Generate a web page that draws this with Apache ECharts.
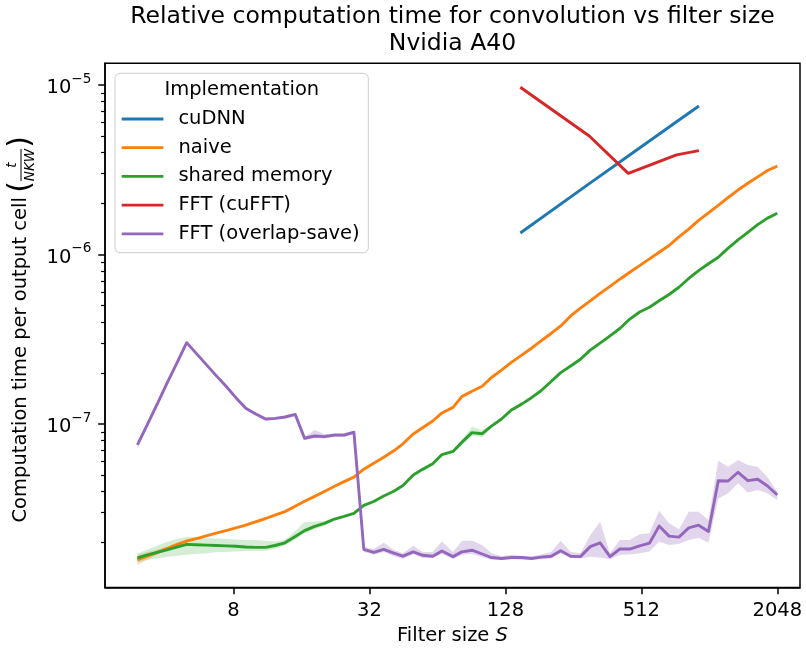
<!DOCTYPE html>
<html><head><meta charset="utf-8">
<script src="https://cdn.jsdelivr.net/npm/echarts@6/dist/echarts.min.js"></script>
<style>html,body{margin:0;padding:0;background:#fff}#c{width:806px;height:648px}</style>
</head><body><div id="c"></div>
<script>
// Filter sizes S (x positions)
const sizes = [3, 3.32, 3.67, 4.05, 4.48, 4.96, 5.48, 6.06, 6.7, 7.41, 8.19, 9.06, 10, 11.1, 12.2, 13.5, 15, 16.5, 18.3, 20.2,
  22.4, 24.7, 27.3, 30.2, 33.4, 37, 41, 45, 50, 55, 61, 67, 75, 82, 91, 101, 111, 123, 136, 151,
  167, 184, 204, 225, 249, 275, 304, 336, 372, 411, 455, 503, 556, 614, 679, 751, 830, 918, 1015, 1122,
  1241, 1372, 1517, 1677, 1854, 2048];
const sizesFFT = [149, 301, 448, 733, 921];

// Time per output cell (seconds)
const cudnn = [1.34e-6, 2.62e-6, 3.81e-6, 6.07e-6, 7.52e-6];
const cufft = [9.70e-6, 5.00e-6, 3.01e-6, 3.87e-6, 4.10e-6];
const naive = [1.58e-8, 1.66e-8, 1.75e-8, 1.84e-8, 1.94e-8, 2.04e-8, 2.11e-8, 2.19e-8, 2.27e-8, 2.35e-8,
  2.44e-8, 2.53e-8, 2.65e-8, 2.77e-8, 2.90e-8, 3.04e-8, 3.27e-8, 3.50e-8, 3.74e-8, 4.00e-8,
  4.29e-8, 4.57e-8, 4.86e-8, 5.41e-8, 5.86e-8, 6.36e-8, 6.95e-8, 7.64e-8, 8.73e-8, 9.50e-8,
  1.042e-7, 1.162e-7, 1.254e-7, 1.45e-7, 1.56e-7, 1.67e-7, 1.88e-7, 2.08e-7, 2.31e-7, 2.55e-7,
  2.80e-7, 3.09e-7, 3.42e-7, 3.79e-7, 4.34e-7, 4.83e-7, 5.33e-7, 5.89e-7, 6.49e-7, 7.15e-7,
  7.85e-7, 8.60e-7, 9.42e-7, 1.03e-6, 1.13e-6, 1.27e-6, 1.41e-6, 1.59e-6, 1.76e-6, 1.95e-6,
  2.17e-6, 2.40e-6, 2.63e-6, 2.87e-6, 3.13e-6, 3.32e-6];
const naiveLo = [1.47e-8, 1.58e-8, 1.69e-8, 1.79e-8, 1.91e-8, 2.00e-8];
const naiveHi = [1.69e-8, 1.76e-8, 1.82e-8, 1.89e-8, 1.99e-8, 2.08e-8];
const shared = [1.62e-8, 1.69e-8, 1.75e-8, 1.81e-8, 1.88e-8, 1.95e-8, 1.94e-8, 1.93e-8, 1.92e-8, 1.91e-8,
  1.90e-8, 1.88e-8, 1.87e-8, 1.87e-8, 1.92e-8, 1.99e-8, 2.17e-8, 2.35e-8, 2.49e-8, 2.59e-8,
  2.75e-8, 2.85e-8, 2.97e-8, 3.31e-8, 3.49e-8, 3.76e-8, 4.01e-8, 4.34e-8, 5.00e-8, 5.40e-8,
  5.83e-8, 6.60e-8, 6.89e-8, 7.79e-8, 8.89e-8, 8.76e-8, 9.71e-8, 1.07e-7, 1.21e-7, 1.31e-7,
  1.43e-7, 1.57e-7, 1.78e-7, 2.01e-7, 2.20e-7, 2.41e-7, 2.73e-7, 3.00e-7, 3.31e-7, 3.66e-7,
  4.16e-7, 4.58e-7, 4.88e-7, 5.33e-7, 5.81e-7, 6.41e-7, 7.22e-7, 8.03e-7, 8.82e-7, 9.63e-7,
  1.09e-6, 1.22e-6, 1.35e-6, 1.50e-6, 1.64e-6, 1.75e-6];
const sharedLo = [1.52e-8, 1.58e-8, 1.61e-8, 1.65e-8, 1.67e-8, 1.69e-8, 1.71e-8, 1.73e-8, 1.75e-8, 1.76e-8,
  1.77e-8, 1.78e-8, 1.78e-8, 1.79e-8, 1.83e-8, 1.92e-8, 2.08e-8, 2.26e-8, 2.40e-8, 2.50e-8,
  2.70e-8, null, null, null, null, null, null, null, null, null,
  null, null, 6.74e-8, 7.52e-8, 8.50e-8, 8.38e-8, 9.47e-8];
const sharedHi = [1.72e-8, 1.81e-8, 1.91e-8, 2.01e-8, 2.10e-8, 2.16e-8, 2.15e-8, 2.12e-8, 2.11e-8, 2.10e-8,
  2.08e-8, 2.07e-8, 2.07e-8, 2.05e-8, 2.03e-8, 2.07e-8, 2.34e-8, 2.64e-8, 2.66e-8, 2.68e-8,
  2.80e-8, null, null, null, null, null, null, null, null, null,
  null, null, 7.02e-8, 8.05e-8, 9.64e-8, 9.22e-8, 9.87e-8];
const overlap = [7.52e-8, 9.93e-8, 1.31e-7, 1.73e-7, 2.28e-7, 3.02e-7, 2.60e-7, 2.24e-7, 1.93e-7, 1.67e-7,
  1.43e-7, 1.24e-7, 1.15e-7, 1.07e-7, 1.08e-7, 1.10e-7, 1.14e-7, 8.24e-8, 8.50e-8, 8.42e-8,
  8.61e-8, 8.61e-8, 8.94e-8, 1.82e-8, 1.75e-8, 1.82e-8, 1.73e-8, 1.66e-8, 1.76e-8, 1.68e-8,
  1.66e-8, 1.78e-8, 1.65e-8, 1.76e-8, 1.80e-8, 1.71e-8, 1.63e-8, 1.61e-8, 1.63e-8, 1.63e-8,
  1.61e-8, 1.64e-8, 1.66e-8, 1.79e-8, 1.66e-8, 1.65e-8, 1.89e-8, 1.99e-8, 1.65e-8, 1.83e-8,
  1.83e-8, 1.91e-8, 1.98e-8, 2.50e-8, 2.18e-8, 2.15e-8, 2.44e-8, 2.53e-8, 2.32e-8, 4.63e-8,
  4.61e-8, 5.19e-8, 4.63e-8, 4.72e-8, 4.31e-8, 3.81e-8];
const overlapLo = [7.22e-8, 9.60e-8, 1.28e-7, 1.69e-7, 2.23e-7, 2.97e-7, 2.55e-7, 2.20e-7, 1.89e-7, 1.63e-7,
  1.40e-7, 1.21e-7, 1.12e-7, 1.04e-7, 1.06e-7, 1.07e-7, 1.11e-7, 8.05e-8, 8.28e-8, 8.21e-8,
  8.38e-8, 8.38e-8, 8.73e-8, 1.76e-8, 1.69e-8, 1.76e-8, 1.66e-8, 1.60e-8, 1.71e-8, 1.62e-8,
  1.62e-8, 1.71e-8, 1.60e-8, 1.69e-8, 1.71e-8, 1.64e-8, 1.58e-8, 1.58e-8, 1.59e-8, 1.58e-8,
  1.58e-8, 1.59e-8, 1.61e-8, 1.73e-8, 1.62e-8, 1.61e-8, 1.65e-8, 1.63e-8, 1.59e-8, 1.69e-8,
  1.70e-8, 1.73e-8, 1.77e-8, 2.02e-8, 1.93e-8, 1.96e-8, 2.07e-8, 2.13e-8, 1.99e-8, 3.64e-8,
  3.90e-8, 4.47e-8, 3.95e-8, 4.08e-8, 3.90e-8, 3.56e-8];
const overlapHi = [7.83e-8, 1.03e-7, 1.35e-7, 1.77e-7, 2.32e-7, 3.07e-7, 2.64e-7, 2.27e-7, 1.96e-7, 1.69e-7,
  1.45e-7, 1.25e-7, 1.16e-7, 1.08e-7, 1.09e-7, 1.11e-7, 1.15e-7, 8.38e-8, 9.22e-8, 8.73e-8,
  8.73e-8, 8.73e-8, 9.09e-8, 1.88e-8, 1.83e-8, 1.99e-8, 1.81e-8, 1.73e-8, 1.91e-8, 1.76e-8,
  1.76e-8, 2.03e-8, 1.76e-8, 2.04e-8, 2.05e-8, 1.93e-8, 1.73e-8, 1.66e-8, 1.69e-8, 1.67e-8,
  1.66e-8, 1.70e-8, 1.76e-8, 2.05e-8, 1.76e-8, 1.73e-8, 2.21e-8, 2.65e-8, 1.73e-8, 2.07e-8,
  2.07e-8, 2.24e-8, 2.27e-8, 3.08e-8, 2.60e-8, 2.39e-8, 3.04e-8, 3.04e-8, 2.71e-8, 6.08e-8,
  5.60e-8, 6.13e-8, 5.73e-8, 5.60e-8, 4.85e-8, 3.99e-8];

// Tick labels
const xTickSizes = [8, 32, 128, 512, 2048];
const yTickExps = [-7, -6, -5];
const names = ['cuDNN', 'naive', 'shared memory', 'FFT (cuFFT)', 'FFT (overlap-save)'];
const colors = ['#1f77b4', '#ff7f0e', '#2ca02c', '#d62728', '#9467bd'];

const FONT = 'DejaVu Sans';
const L2 = v => Math.log2(v), L10 = v => Math.log10(v);
const ok = v => v !== null && v !== undefined;

function linePts(xs, ys) { return xs.map((s, i) => [L2(s), ok(ys[i]) ? L10(ys[i]) : '-']); }
function lineSeries(name, xs, ys, color) {
  return { type: 'line', name, data: linePts(xs, ys), color, symbol: 'none', showSymbol: false,
    lineStyle: { width: 2.9, color, join: 'round' }, z: 3, silent: true, animation: false };
}
// Shaded band between lo and hi, placed through the axes' coordinate mapping (api.coord)
function bandSeries(xs, lo, hi, fill) {
  const first = lo.findIndex(ok);
  return {
    type: 'custom', coordinateSystem: 'cartesian2d', clip: true, z: 1, silent: true, animation: false,
    data: [[L2(xs[first]), L10(lo[first])]],
    renderItem: (params, api) => {
      const children = [];
      let run = [];
      const flush = () => {
        if (run.length > 1) {
          const top = run.map(i => api.coord([L2(xs[i]), L10(hi[i])]));
          const bot = run.map(i => api.coord([L2(xs[i]), L10(lo[i])])).reverse();
          children.push({ type: 'polygon', shape: { points: top.concat(bot) }, style: { fill: fill } });
        }
        run = [];
      };
      for (let i = 0; i < xs.length; i++) { if (ok(lo[i]) && ok(hi[i])) run.push(i); else flush(); }
      flush();
      return { type: 'group', children };
    }
  };
}

const minorVals = [];
for (let e = -8; e <= -6; e++) for (let k = 2; k <= 9; k++) minorVals.push(L10(k * Math.pow(10, e)));

const X_MIN = 1.1083, X_MAX = 11.3341, Y_MIN = -7.9646, Y_MAX = -4.872;

const chart = echarts.init(document.getElementById('c'), null, { renderer: 'canvas' });
chart.setOption({
  animation: false,
  backgroundColor: '#fff',
  title: {
    text: 'Relative computation time for convolution vs filter size\nNvidia A40',
    left: 452.5, top: 3, textAlign: 'center', padding: 0,
    textStyle: { fontFamily: FONT, fontSize: 23.5, fontWeight: 'normal', color: '#000', lineHeight: 27.5 }
  },
  grid: { left: 105, top: 63.3, right: 6, bottom: 60.5, show: true, borderColor: '#000', borderWidth: 1.5,
    backgroundColor: 'rgba(0,0,0,0)', containLabel: false, outerBoundsMode: 'none' },
  legend: {
    data: names, orient: 'vertical', left: 121.7, top: 109, padding: 0, itemGap: 8.7,
    itemWidth: 41.7, itemHeight: 2.8, icon: 'rect', z: 12, selectedMode: false,
    textStyle: { fontFamily: FONT, fontSize: 19.5, color: '#000', lineHeight: 20, padding: [0, 0, 0, 10] }
  },
  xAxis: {
    type: 'value', min: X_MIN, max: X_MAX,
    axisLine: { show: true, onZero: false, lineStyle: { color: '#000', width: 1.5 } },
    axisTick: { show: true, customValues: xTickSizes.map(L2), length: 6.8, lineStyle: { color: '#000', width: 1.5 } },
    axisLabel: { customValues: xTickSizes.map(L2), margin: 13.6, fontFamily: FONT, fontSize: 19.5, color: '#000',
      formatter: v => String(Math.round(Math.pow(2, v))) },
    splitLine: { show: false },
    name: '{a|Filter size }{b|S}', nameLocation: 'middle', nameGap: 36,
    nameTextStyle: { fontFamily: FONT, fontSize: 19.5, color: '#000',
      rich: { a: { fontFamily: FONT, fontSize: 19.5, color: '#000' }, b: { fontFamily: FONT, fontSize: 19.5, color: '#000', fontStyle: 'italic' } } }
  },
  yAxis: [{
    type: 'value', min: Y_MIN, max: Y_MAX, position: 'left',
    axisLine: { show: true, onZero: false, lineStyle: { color: '#000', width: 1.5 } },
    axisTick: { show: true, customValues: yTickExps, length: 6.8, lineStyle: { color: '#000', width: 1.5 } },
    axisLabel: { customValues: yTickExps, margin: 13.6,
      formatter: v => '{b|10}{s|\u2212' + Math.round(-v) + '}',
      rich: {
        b: { fontFamily: FONT, fontSize: 19.5, color: '#000', lineHeight: 26, verticalAlign: 'bottom' },
        s: { fontFamily: FONT, fontSize: 13.6, color: '#000', lineHeight: 26, verticalAlign: 'top' }
      } },
    splitLine: { show: false }
  }, {
    type: 'value', min: Y_MIN, max: Y_MAX, position: 'left',
    axisLine: { show: false },
    axisTick: { show: true, customValues: minorVals, length: 3.9, lineStyle: { color: '#000', width: 1.2 } },
    axisLabel: { show: false },
    splitLine: { show: false }
  }],
  graphic: [
    { type: 'rect', shape: { x: 115, y: 73.3, width: 253.3, height: 179.4, r: 5 },
      style: { fill: 'rgba(255,255,255,0.8)', stroke: '#cccccc', lineWidth: 1 }, z: 10, silent: true },
    { type: 'text', x: 241.8, y: 90, z: 11, silent: true,
      style: { text: 'Implementation', fontFamily: FONT, fontSize: 19.5, fill: '#000', align: 'center', verticalAlign: 'middle' } },
    { type: 'group', x: 21, y: 325, rotation: Math.PI / 2, silent: true, children: [
      { type: 'text', x: -197.5, y: 0, style: { text: 'Computation time per output cell', fontFamily: FONT, fontSize: 19.5, fill: '#000', align: 'left', verticalAlign: 'middle' } },
      { type: 'text', x: 138, y: 0, style: { text: '(', fontFamily: FONT, fontSize: 30, fill: '#000', align: 'center', verticalAlign: 'middle' } },
      { type: 'text', x: 160, y: -9, style: { text: 't', fontFamily: FONT, fontSize: 13.6, fontStyle: 'italic', fill: '#000', align: 'center', verticalAlign: 'middle' } },
      { type: 'line', shape: { x1: 144, y1: 0, x2: 176, y2: 0 }, style: { stroke: '#000', lineWidth: 1 } },
      { type: 'text', x: 160, y: 9.5, style: { text: 'NKW', fontFamily: FONT, fontSize: 13.6, fontStyle: 'italic', fill: '#000', align: 'center', verticalAlign: 'middle' } },
      { type: 'text', x: 183, y: 0, style: { text: ')', fontFamily: FONT, fontSize: 30, fill: '#000', align: 'center', verticalAlign: 'middle' } }
    ] }
  ],
  series: [
    bandSeries(sizes, naiveLo, naiveHi, 'rgba(255,127,14,0.22)'),
    bandSeries(sizes, sharedLo, sharedHi, 'rgba(44,160,44,0.2)'),
    bandSeries(sizes, overlapLo, overlapHi, 'rgba(148,103,189,0.27)'),
    lineSeries(names[0], sizesFFT, cudnn, colors[0]),
    lineSeries(names[1], sizes, naive, colors[1]),
    lineSeries(names[2], sizes, shared, colors[2]),
    lineSeries(names[3], sizesFFT, cufft, colors[3]),
    lineSeries(names[4], sizes, overlap, colors[4])
  ]
});
</script>
</body></html>
